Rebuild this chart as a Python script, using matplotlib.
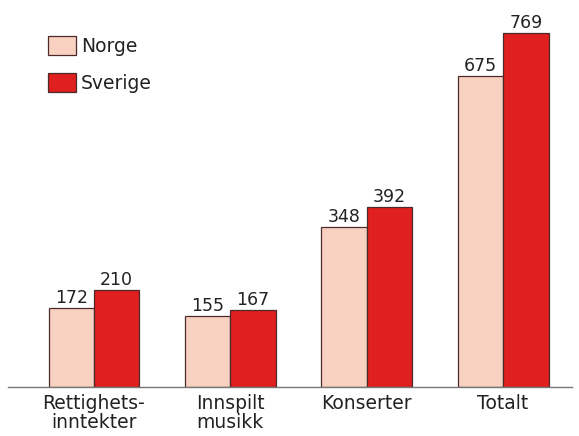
import numpy as np
import matplotlib.pyplot as plt

plt.rcParams['font.family'] = ['DejaVu Sans']

categories = ["Rettighets-\ninntekter", "Innspilt\nmusikk", "Konserter", "Totalt"]
norge = [172, 155, 348, 675]
sverige = [210, 167, 392, 769]

c_norge = "#f9d1c1"
c_sverige = "#e01f1f"
edge = "#4a2a2a"

fig = plt.figure(figsize=(5.79, 4.36), dpi=100)
ax = fig.add_axes([8 / 579, 1 - 387 / 436, (572 - 8) / 579, (387 - 5) / 436])

x = np.arange(len(categories))
w = 0.333
b1 = ax.bar(x - w / 2, norge, w, color=c_norge, edgecolor=edge, linewidth=0.9, label="Norge")
b2 = ax.bar(x + w / 2, sverige, w, color=c_sverige, edgecolor=edge, linewidth=0.9, label="Sverige")

for bars, vals in [(b1, norge), (b2, sverige)]:
    for r, v in zip(bars, vals):
        ax.text(r.get_x() + r.get_width() / 2, v + 2, str(v), ha="center", va="bottom",
                fontsize=12.5, color="#222222")

ax.set_xlim(-0.63, 3.505)
ax.set_ylim(0, (387 - 5) / 0.4603)
ax.set_xticks(x)
ax.set_xticklabels(categories, fontsize=13.5, color="#222222", linespacing=1.0)
ax.tick_params(axis="x", length=0, pad=5)
ax.set_yticks([])
for s in ["top", "right", "left"]:
    ax.spines[s].set_visible(False)
ax.spines["bottom"].set_color("#777777")
ax.spines["bottom"].set_linewidth(1.0)

leg = ax.legend(loc="upper left", bbox_to_anchor=(0.0709, 0.918), frameon=False, fontsize=13.5,
                handlelength=1.47, handleheight=1.15, handletextpad=0.3, labelspacing=0.92,
                borderaxespad=0, borderpad=0)
for t in leg.get_texts():
    t.set_color("#222222")

fig.savefig("out.png", dpi=100)
